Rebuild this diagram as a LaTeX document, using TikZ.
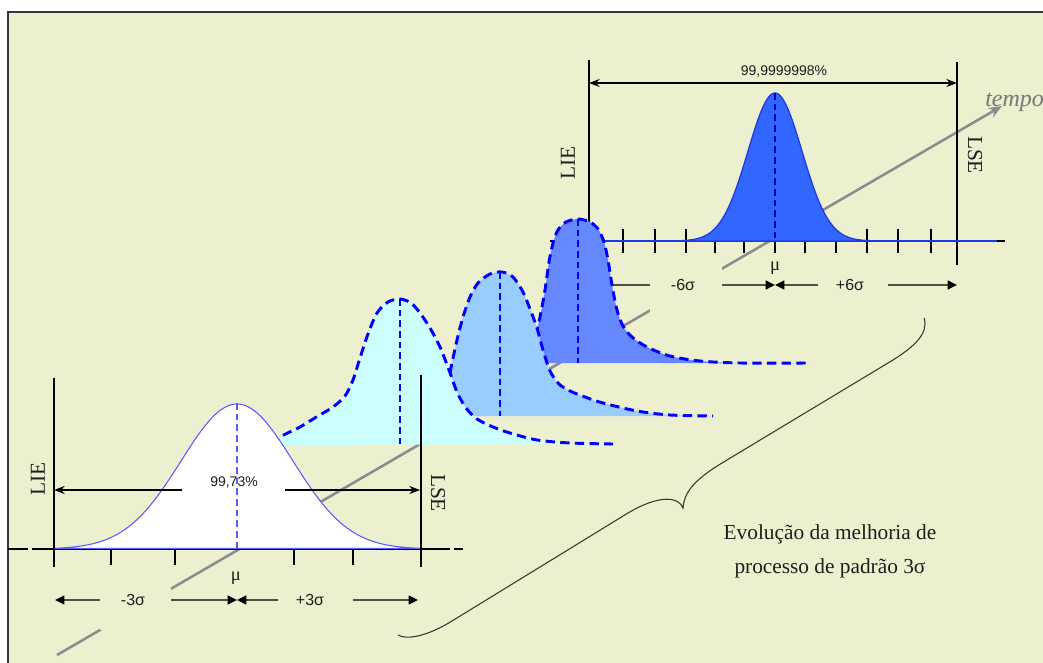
\documentclass[tikz,border=0pt]{standalone}
\usepackage{fontspec}
\setmainfont{Liberation Serif}
\newfontfamily\lsans{Liberation Sans}
\usetikzlibrary{arrows.meta}
\definecolor{bgc}{RGB}{237,240,207}
\definecolor{framec}{RGB}{55,55,55}
\definecolor{timec}{RGB}{140,140,140}
\definecolor{rowc}{RGB}{80,80,70}
\definecolor{bluebright}{RGB}{51,102,255}
\definecolor{bluemed}{RGB}{102,136,255}
\definecolor{bluelight}{RGB}{153,204,255}
\definecolor{cyanlight}{RGB}{204,255,255}
\definecolor{dashblue}{RGB}{0,0,255}
\definecolor{outlineblue}{RGB}{30,60,230}
\definecolor{whiteoutline}{RGB}{90,90,255}
\definecolor{txtc}{RGB}{30,30,30}
\begin{document}
\begin{tikzpicture}[x=0.75pt,y=-0.75pt,
  curveoutline/.style={dashblue, line width=2.2pt, dash pattern=on 7pt off 4pt},
  centerline/.style={dashblue, line width=1.4pt, dash pattern=on 5pt off 3pt},
  rowarrow/.style={rowc, line width=2.2pt, -{Triangle[length=7pt,width=6.5pt,color=black]}},
  limitline/.style={black, line width=1.3pt},
  tickmark/.style={black, line width=1.1pt},
  axisline/.style={black, line width=1.2pt},
  pctarrow/.style={black, line width=1.1pt, -{Stealth[length=8pt,width=6pt]}},
  limitlabel/.style={font=\fontsize{16}{18}\selectfont, text=txtc, inner sep=0pt},
  siglabel/.style={font=\lsans\fontsize{12}{13}\selectfont, text=txtc, inner sep=0pt},
  pctlabel/.style={font=\lsans\fontsize{10.5}{12}\selectfont, text=txtc, inner sep=0pt},
  mulabel/.style={font=\fontsize{14}{16}\selectfont, text=txtc, inner sep=0pt},
]
\useasboundingbox (0,0) rectangle (1043,663);
\clip (0,0) rectangle (1043,663);
% background and frame
\fill[white] (0,0) rectangle (1043,663);
\fill[bgc] (8,12) rectangle (1043,663);
\draw[framec, line width=1.5pt] (8,663) -- (8,12) -- (1043,12);

% time axis
\coordinate (t0) at (57,655);
\coordinate (t1) at (1002,106);
\draw[timec, line width=1.9pt, -{Stealth[length=10pt,width=8pt]}] (t0) -- (t1);

% ===== right diagram (6 sigma) =====
\coordinate (rLIEt) at (589,60);  \coordinate (rLIEb) at (589,265);
\coordinate (rLSEt) at (957,62);  \coordinate (rLSEb) at (957,265);
\draw[limitline] (rLIEt) -- (rLIEb);
\draw[limitline] (rLSEt) -- (rLSEb);
\coordinate (raxL) at (550,241); \coordinate (raxR) at (1005,241);
\draw[axisline] (raxL) -- (raxR);
\foreach \x in {623,655,686,715,744,775,805,836,867,898,931}
  \draw[tickmark] (\x,229) -- (\x,253);
\draw[outlineblue, line width=1.6pt] (603,241) -- (997,241);
\filldraw[fill=bluebright, draw=outlineblue, line width=1pt]
  plot[domain=640:910, samples=120] (\x, {241-148*exp(-0.5*((\x-775)/27)^2)}) -- cycle;
\draw[centerline, dashblue!75!black] (775,93) -- (775,241);
% percentage arrow
\coordinate (rpL) at (589,83); \coordinate (rpR) at (957,83);
\draw[black, line width=1.1pt, {Stealth[length=8pt,width=6pt]}-{Stealth[length=8pt,width=6pt]}] (rpL) -- (rpR);
\node[pctlabel] (rpct) at (784,72) {99,9999998\%};
\node[limitlabel, rotate=90] (rlie) at (568,163) {LIE};
\node[limitlabel, rotate=-90] (rlse) at (975,155) {LSE};
% sigma row
\coordinate (rmu) at (775,285);
\draw[rowarrow] (650,285) -- (589,285);
\draw[rowarrow] (722,285) -- (rmu);
\draw[rowarrow] (818,285) -- (rmu);
\draw[rowarrow] (888,285) -- (957,285);
\fill[bgc] (650,266) rectangle (722,312);
\node[siglabel] (m6) at (683,285) {-6σ};
\node[siglabel] (p6) at (850,285) {+6σ};
\node[mulabel] (mur) at (775,268) {μ};

% ===== medium blue curve =====
\fill[bluemed] plot[smooth] coordinates {(525,363) (533,345) (540,317) (545,290) (549,262) (553,243) (558,230) (566,222) (578,219) (590,222) (598,229) (604,242) (608,260) (612,285) (617,310) (623,326) (632,337) (647,347) (670,356) (700,361) (740,363) (810,363)} -- cycle;
\draw[curveoutline] plot[smooth] coordinates {(525,363) (533,345) (540,317) (545,290) (549,262) (553,243) (558,230) (566,222) (578,219) (590,222) (598,229) (604,242) (608,260) (612,285) (617,310) (623,326) (632,337) (647,347) (670,356) (700,361) (740,363) (810,363)};
\draw[centerline] (578,219) -- (578,363);

% ===== light blue curve =====
\fill[bluelight] plot[smooth] coordinates {(440,416) (446,392) (452,363) (457,340) (463,317) (470,297) (478,283) (490,274) (502,272) (513,277) (523,292) (530,309) (537,328) (543,350) (550,371) (559,384) (570,391) (585,397) (603,403) (637,411) (670,415) (713,416)} -- cycle;
\draw[curveoutline] plot[smooth] coordinates {(440,416) (446,392) (452,363) (457,340) (463,317) (470,297) (478,283) (490,274) (502,272) (513,277) (523,292) (530,309) (537,328) (543,350) (550,371) (559,384) (570,391) (585,397) (603,403) (637,411) (670,415) (713,416)};
\draw[centerline] (500,272) -- (500,416);

% ===== cyan curve =====
\fill[cyanlight] plot[smooth] coordinates {(272,445) (282,436) (300,427) (318,416) (333,407) (345,396) (353,380) (360,358) (368,334) (377,313) (388,302) (400,299) (411,303) (420,313) (430,328) (440,347) (449,370) (457,392) (466,408) (477,419) (493,427) (510,433) (537,440) (570,443) (613,444)} -- cycle;
\draw[curveoutline] plot[smooth] coordinates {(272,445) (282,436) (300,427) (318,416) (333,407) (345,396) (353,380) (360,358) (368,334) (377,313) (388,302) (400,299) (411,303) (420,313) (430,328) (440,347) (449,370) (457,392) (466,408) (477,419) (493,427) (510,433) (537,440) (570,443) (613,444)};
\draw[centerline] (400,299) -- (400,445);

% ===== left diagram (3 sigma) =====
\draw[axisline] (8,549) -- (28,549) (32,549) -- (450,549) (454,549) -- (463,549);
\filldraw[fill=white, draw=whiteoutline, line width=0.8pt]
  plot[domain=54:421, samples=140] (\x, {549-145*exp(-0.5*((\x-237)/56)^2)}) -- cycle;
\draw[centerline, whiteoutline] (237,403) -- (237,549);
\foreach \x in {111,175,294,353}
  \draw[tickmark] (\x,549) -- (\x,565);
\coordinate (lLIEt) at (54,378); \coordinate (lLIEb) at (54,567);
\coordinate (lLSEt) at (421,375); \coordinate (lLSEb) at (421,567);
\draw[limitline] (lLIEt) -- (lLIEb);
\draw[limitline] (lLSEt) -- (lLSEb);
\draw[pctarrow] (182,490) -- (54,490);
\draw[pctarrow] (285,490) -- (420,490);
\node[pctlabel] (lpct) at (234,483) {99,73\%};
\node[limitlabel, rotate=90] (llie) at (38,479) {LIE};
\node[limitlabel, rotate=-90] (llse) at (438,493) {LSE};
% sigma row
\coordinate (lmu) at (237,600);
\draw[rowarrow] (100,600) -- (55,600);
\draw[rowarrow] (171,600) -- (lmu);
\draw[rowarrow] (278,600) -- (lmu);
\draw[rowarrow] (353,600) -- (418,600);
\fill[bgc] (100,588) rectangle (171,630);
\node[siglabel] (m3) at (133,600) {-3σ};
\node[siglabel] (p3) at (310,600) {+3σ};
\node[mulabel] (mul) at (236,578) {μ};

% ===== brace and caption =====
\draw[framec, line width=0.8pt] (398,635) .. controls (406,640) and (426,637) .. (452,621) -- (628,513)
  .. controls (660,494) and (679,497) .. (683,508)
  .. controls (684,494) and (692,481) .. (722,463) -- (888,363)
  .. controls (915,347) and (929,333) .. (924,318);
\node[align=center, font=\fontsize{16}{25.5}\selectfont, text=txtc] (evo) at (830,551)
  {Evolução da melhoria de\\processo de padrão 3σ};
\node[anchor=base west, font=\itshape\fontsize{18}{20}\selectfont, text=timec!85!black, inner sep=0pt] (tempo) at (985,107) {tempo};
\end{tikzpicture}
\end{document}
